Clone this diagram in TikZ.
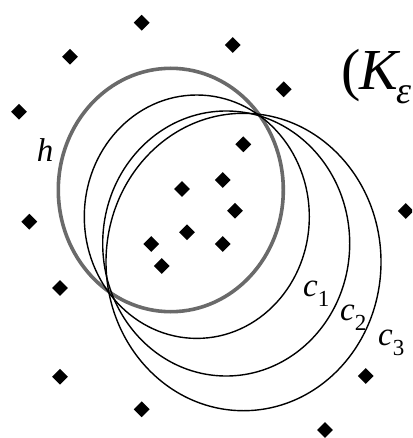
\documentclass[tikz,border=0pt]{standalone}
\usepackage{fontspec}
\setmainfont{Liberation Serif}
\usetikzlibrary{shapes.geometric}
\definecolor{HullGray}{HTML}{6A6A6A}
\tikzset{
  site/.style={diamond,fill=black,draw=none,minimum width=16pt,minimum height=16pt,inner sep=0pt},
  hullring/.style={draw=HullGray,line width=3.6pt},
  candring/.style={draw=black,line width=1.4pt},
  ringlabel/.style={anchor=base west,inner sep=0pt,font=\fontsize{33}{35}\selectfont\itshape}
}
\newcommand{\subidx}[1]{\raisebox{-10pt}{\fontsize{23}{25}\selectfont\upshape #1}}

\begin{document}
\begin{tikzpicture}[x=1pt,y=-1pt]
\clip (0,0) rectangle (412,438);
\foreach \px/\py [count=\i] in {141.7/22.7,232.7/45,70/56.7,283.7/89.3,19/111.7,
  243.3/144.3,222.7/180,182/189,235/210.7,405.7/211,29.3/221.7,187/232.3,
  151.3/244,222.7/244,161.7/266,60/288,60/376.7,365.7/376,141.7/409.3,325/430}
  \node[site] (s\i) at (\px,\py) {};
\draw[hullring] (170.8,190) ellipse [x radius=112.5,y radius=121.7];
\draw[candring] (196.8,216.7) ellipse [x radius=112.5,y radius=121.7];
\draw[candring] (226.2,243.5) ellipse [x radius=123.5,y radius=132.5];
\draw[candring] (243.5,262) ellipse [x radius=137.5,y radius=148.7];
\node[ringlabel] (h) at (36.7,161.7) {h};
\node[ringlabel] (c1) at (303,296) {c\subidx{1}};
\node[ringlabel] (c2) at (340,320) {c\subidx{2}};
\node[ringlabel] (c3) at (378,345) {c\subidx{3}};
\node[anchor=base west,inner sep=0pt,font=\fontsize{58}{60}\selectfont] (keps) at (341,90)
  {(\kern-1pt\textit{K}\kern-4pt\raisebox{-14pt}{\fontsize{38}{40}\selectfont\textit{ε}}};
\end{tikzpicture}
\end{document}
